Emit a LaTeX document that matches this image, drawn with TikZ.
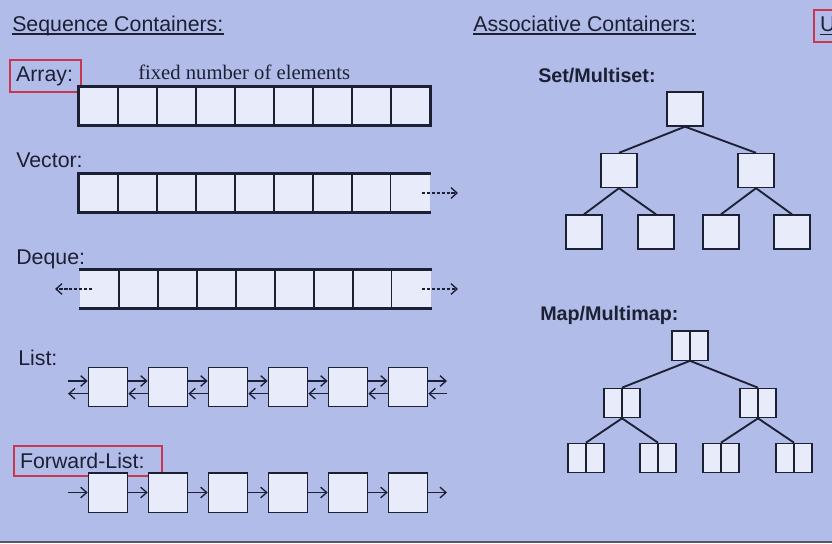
\documentclass[tikz,border=0pt]{standalone}
\usepackage{fontspec}
\setmainfont{Liberation Sans}
\newfontfamily\notefont{Liberation Serif}
\usepackage{tikz}
\usetikzlibrary{arrows.meta,positioning}
\definecolor{slidebg}{RGB}{178,188,232}
\definecolor{cellbg}{RGB}{232,236,250}
\definecolor{inkc}{RGB}{28,32,52}
\definecolor{markred}{RGB}{200,55,80}

\begin{document}
\begin{tikzpicture}[x=0.75pt,y=-0.75pt,
  cell/.style={rectangle, draw=inkc, fill=cellbg, line width=0.8pt, minimum width=29.25pt,
    minimum height=28.5pt, inner sep=0pt},
  opencell/.style={cell, draw=none},
  listbox/.style={rectangle, draw=inkc, fill=cellbg, line width=1pt, minimum width=29.5pt,
    minimum height=29.5pt, inner sep=0pt},
  treebox/.style={rectangle, draw=inkc, fill=cellbg, line width=1pt, minimum width=27pt,
    minimum height=25.5pt, inner sep=0pt},
  pairbox/.style={treebox, minimum height=22pt,
    path picture={\draw[inkc, line width=1pt] (path picture bounding box.north) -- (path picture bounding box.south);}},
  heading/.style={font=\fontsize{16}{19}\selectfont, text=inkc, inner sep=0pt, anchor=base west},
  kind/.style={font=\fontsize{16}{19}\selectfont, text=inkc, inner sep=0pt, anchor=base west},
  subkind/.style={font=\bfseries\fontsize{14.8}{18}\selectfont, text=inkc, inner sep=0pt, anchor=base west},
  note/.style={font=\notefont\fontsize{15.5}{18}\selectfont, text=inkc, inner sep=0pt, anchor=base west},
  redbox/.style={draw=markred, line width=1.6pt, inner xsep=4.5pt, inner ysep=0pt, align=left,
    anchor=west, minimum height=24pt, font=\fontsize{16}{19}\selectfont, text=inkc},
  wall/.style={line width=2.8pt, draw=inkc},
  uline/.style={line width=1.4pt, draw=inkc},
  branch/.style={line width=1.4pt, draw=inkc},
  ptr/.style={-{Straight Barb[length=4.5pt, width=8pt, line width=1pt]}, line width=1pt, draw=inkc},
  growarr/.style={-{Straight Barb[length=4.5pt, width=8pt, line width=1pt]}, dash pattern=on 2.4pt off 1.3pt,
    line width=1pt, draw=inkc}
]
\useasboundingbox (0,0) rectangle (832,543);
\fill[slidebg] (0,0) rectangle (832,543);
\fill[inkc!75] (0,540.5) rectangle (832,543);

% headings
\node[heading] (seqhd) at (12,31) {Sequence Containers:};
\draw[uline] ([yshift=-2.2pt]seqhd.base west) -- ([yshift=-2.2pt]seqhd.base east);
\node[heading] (asshd) at (473,31) {Associative Containers:};
\draw[uline] ([yshift=-2.2pt]asshd.base west) -- ([yshift=-2.2pt]asshd.base east);
\node[redbox, text width=40pt, minimum height=24.5pt] (unohd) at (813,26) {\underline{U}};

% array
\node[redbox, text width=44.25pt] (arrlbl) at (9,76) {Array:};
\node[note] (arrnote) at (138,79) {fixed number of elements};
\foreach \i in {1,...,9}
  \node[cell] (a\i) at ({98.5+39*(\i-1)},106) {};
\draw[wall] (a1.north west) rectangle (a9.south east);

% vector
\node[kind] (veclbl) at (16,167) {Vector:};
\foreach \i in {1,...,8}
  \node[cell] (v\i) at ({98.5+39*(\i-1)},193) {};
\node[opencell] (v9) at (410.5,193) {};
\draw[wall] (v9.north east) -- (v1.north west) -- (v1.south west) -- (v9.south east);
\coordinate (vtip) at (458,193);
\draw[growarr] ([xshift=8.5pt]v9.center) -- (vtip);

% deque
\node[kind] (deqlbl) at (16,264) {Deque:};
\node[opencell] (d1) at (99.5,289) {};
\foreach \i in {2,...,8}
  \node[cell] (d\i) at ({99.5+39*(\i-1)},289) {};
\node[opencell] (d9) at (411.5,289) {};
\draw[wall] (d1.north west) -- (d9.north east);
\draw[wall] (d1.south west) -- (d9.south east);
\coordinate (dtipl) at (55,289);
\coordinate (dtipr) at (458,289);
\draw[growarr] ([xshift=-5.5pt]d1.center) -- (dtipl);
\draw[growarr] ([xshift=8pt]d9.center) -- (dtipr);

% list
\node[kind] (lstlbl) at (18,365) {List:};
\foreach \i in {1,...,6}
  \node[listbox] (l\i) at ({108+60*(\i-1)},387) {};
\coordinate (lin) at (68,387);
\coordinate (lout) at (447,387);
\draw[ptr] ([yshift=4.5pt]lin) -- ([yshift=4.5pt]l1.west);
\draw[ptr] ([yshift=-5pt]l1.west) -- ([yshift=-5pt]lin);
\foreach \i/\j in {1/2,2/3,3/4,4/5,5/6} {
  \draw[ptr] ([yshift=4.5pt]l\i.east) -- ([yshift=4.5pt]l\j.west);
  \draw[ptr] ([yshift=-5pt]l\j.west) -- ([yshift=-5pt]l\i.east);
}
\draw[ptr] ([yshift=4.5pt]l6.east) -- ([yshift=4.5pt]lout);
\draw[ptr] ([yshift=-5pt]lout) -- ([yshift=-5pt]l6.east);

% forward list
\node[redbox, text width=102pt, minimum height=22.5pt] (fwdlbl) at (13,461) {Forward-List:};
\foreach \i in {1,...,6}
  \node[listbox] (f\i) at ({108+60*(\i-1)},492.5) {};
\coordinate (fin) at (68,492.5);
\coordinate (fout) at (447,492.5);
\draw[ptr] (fin) -- (f1.west);
\foreach \i/\j in {1/2,2/3,3/4,4/5,5/6}
  \draw[ptr] (f\i.east) -- (f\j.west);
\draw[ptr] (f6.east) -- (fout);

% set / multiset
\node[subkind] (setlbl) at (538,82) {Set/Multiset:};
\node[treebox] (s0) at (685,109) {};
\node[treebox] (s1) at (619,170.5) {};
\node[treebox] (s2) at (756,170.5) {};
\node[treebox] (s3) at (584,232) {};
\node[treebox] (s4) at (656,232) {};
\node[treebox] (s5) at (721,232) {};
\node[treebox] (s6) at (792,232) {};
\draw[branch] (s0.south) -- (s1.north);
\draw[branch] (s0.south) -- (s2.north);
\draw[branch] (s1.south) -- (s3.north);
\draw[branch] (s1.south) -- (s4.north);
\draw[branch] (s2.south) -- (s5.north);
\draw[branch] (s2.south) -- (s6.north);

% map / multimap
\node[subkind] (maplbl) at (540,320) {Map/Multimap:};
\node[pairbox] (m0) at (690,345.5) {};
\node[pairbox] (m1) at (622,403) {};
\node[pairbox] (m2) at (758,403) {};
\node[pairbox] (m3) at (586,458) {};
\node[pairbox] (m4) at (658,458) {};
\node[pairbox] (m5) at (721,458) {};
\node[pairbox] (m6) at (794,458) {};
\draw[branch] (m0.south) -- (m1.north);
\draw[branch] (m0.south) -- (m2.north);
\draw[branch] (m1.south) -- (m3.north);
\draw[branch] (m1.south) -- (m4.north);
\draw[branch] (m2.south) -- (m5.north);
\draw[branch] (m2.south) -- (m6.north);

\end{tikzpicture}
\end{document}
